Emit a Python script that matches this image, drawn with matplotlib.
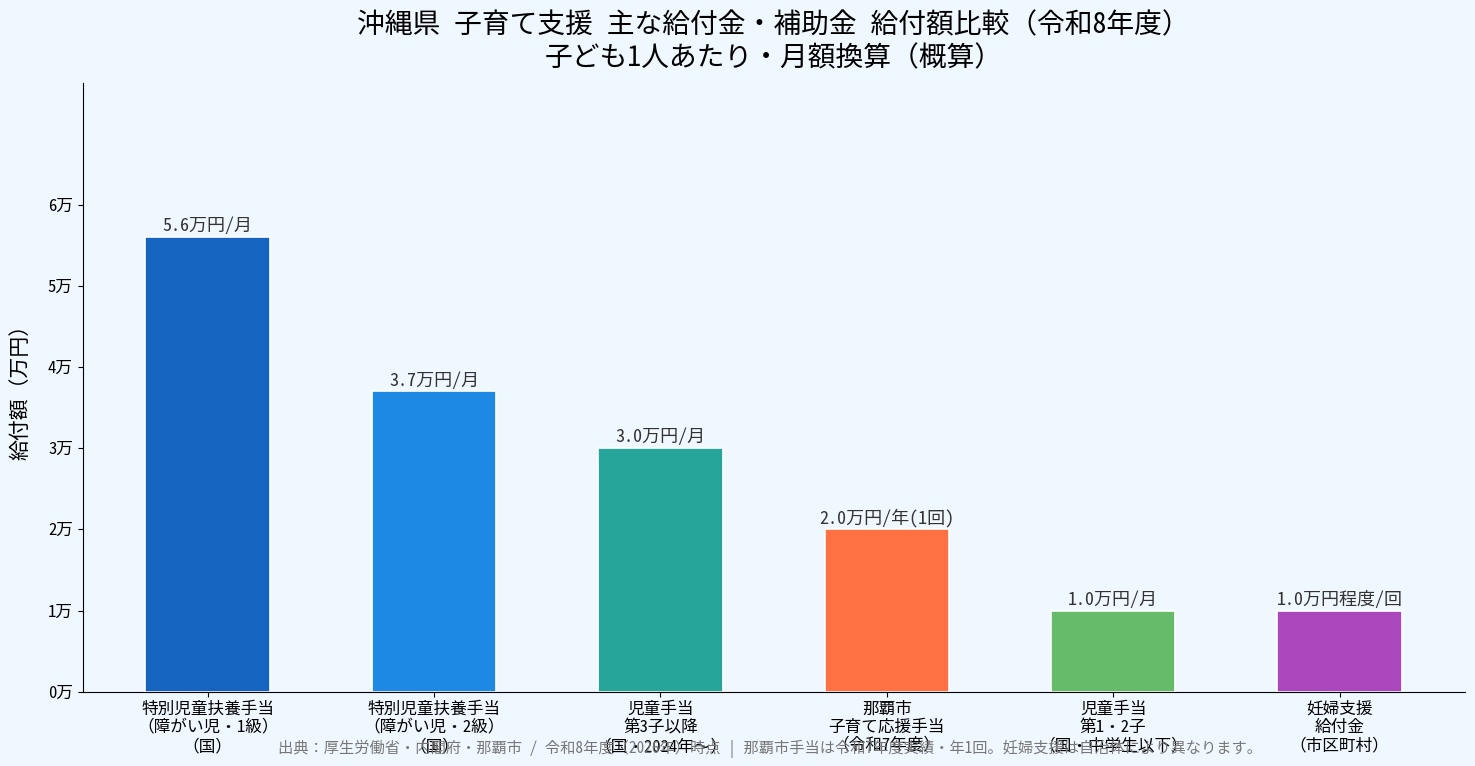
import matplotlib
matplotlib.use("Agg")
import matplotlib.pyplot as plt
import numpy as np

plt.rcParams['font.family'] = ['Noto Sans Mono CJK JP', 'Noto Sans CJK JP', 'DejaVu Sans']

categories = [
    "特別児童扶養手当\n（障がい児・1級）\n（国）",
    "特別児童扶養手当\n（障がい児・2級）\n（国）",
    "児童手当\n第3子以降\n（国・2024年〜）",
    "那覇市\n子育て応援手当\n（令和7年度）",
    "児童手当\n第1・2子\n（国・中学生以下）",
    "妊婦支援\n給付金\n（市区町村）",
]
values = [5.6, 3.7, 3.0, 2.0, 1.0, 1.0]
value_labels = ["5.6万円/月", "3.7万円/月", "3.0万円/月", "2.0万円/年(1回)", "1.0万円/月", "1.0万円程度/回"]
colors = ["#1565C0", "#1E88E5", "#26A69A", "#FF7043", "#66BB6A", "#AB47BC"]
yticks = [0, 1, 2, 3, 4, 5, 6]

bg = "#F0F8FF"
fig, ax = plt.subplots(figsize=(14.75, 7.66), dpi=100)
fig.patch.set_facecolor(bg)
ax.set_facecolor(bg)

x = np.arange(len(categories))
bars = ax.bar(x, values, width=0.55, color=colors, edgecolor="white", linewidth=1.2)
for b, lab in zip(bars, value_labels):
    ax.text(b.get_x() + b.get_width() / 2, b.get_height() + 0.02, lab,
            ha="center", va="bottom", fontsize=13, color="#333333")

ax.set_xticks(x)
ax.set_xticklabels(categories, fontsize=12)
ax.set_yticks(yticks)
ax.set_yticklabels([f"{v}万" for v in yticks], fontsize=12)
ax.set_ylim(0, 7.5)
ax.set_ylabel("給付額（万円）", fontsize=15, labelpad=12)
ax.spines["top"].set_visible(False)
ax.spines["right"].set_visible(False)

ax.set_title("沖縄県 子育て支援 主な給付金・補助金 給付額比較（令和8年度）\n子ども1人あたり・月額換算（概算）",
             fontsize=20, pad=12)

fig.text(0.522, 0.023,
         "出典：厚生労働省・内閣府・那覇市 / 令和8年度（2026年）時点 | 那覇市手当は令和7年度実績・年1回。妊婦支援は自治体により異なります。",
         ha="center", va="center", fontsize=11, color="#777777")

fig.subplots_adjust(left=0.056, right=0.993, top=0.892, bottom=0.097)
fig.savefig("out.png", dpi=100, facecolor=bg)
